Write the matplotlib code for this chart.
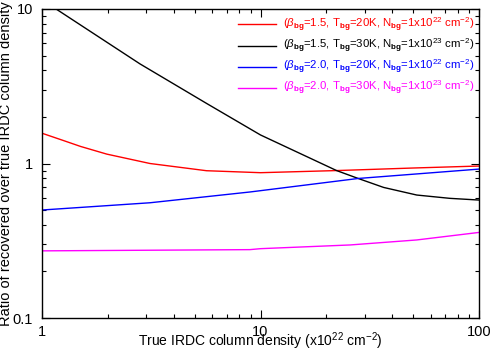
import matplotlib
matplotlib.use('Agg')
import matplotlib.pyplot as plt
from matplotlib.ticker import LogLocator, NullFormatter, FixedLocator, FixedFormatter

plt.rcParams['font.family'] = ['Liberation Sans', 'DejaVu Sans']
plt.rcParams['mathtext.fontset'] = 'custom'
plt.rcParams['mathtext.rm'] = 'Liberation Sans'
plt.rcParams['mathtext.it'] = 'Liberation Sans:italic'
plt.rcParams['mathtext.bf'] = 'Liberation Sans:bold'

# Datos
x_red = [1, 1.25, 1.5, 1.98, 3.12, 5.66, 10, 22.3, 50, 100]
y_red = [1.57, 1.41, 1.29, 1.15, 1.0, 0.898, 0.872, 0.90, 0.935, 0.963]

x_black = [1.16, 2.81, 5.66, 10, 22.3, 28, 36.6, 51.9, 73.5, 100]
y_black = [10, 4.41, 2.45, 1.53, 0.90, 0.80, 0.70, 0.625, 0.595, 0.58]

x_blue = [1, 3.12, 8.94, 10, 28, 100]
y_blue = [0.50, 0.557, 0.654, 0.667, 0.80, 0.92]

x_mag = [1, 8.94, 10, 25.7, 51.9, 100]
y_mag = [0.272, 0.277, 0.281, 0.297, 0.32, 0.358]

labels = [
    r'($\beta_{\mathbf{bg}}$=1.5, T$_{\mathbf{bg}}$=20K, N$_{\mathbf{bg}}$=1x10$^{22}$ cm$^{-2}$)',
    r'($\beta_{\mathbf{bg}}$=1.5, T$_{\mathbf{bg}}$=30K, N$_{\mathbf{bg}}$=1x10$^{23}$ cm$^{-2}$)',
    r'($\beta_{\mathbf{bg}}$=2.0, T$_{\mathbf{bg}}$=20K, N$_{\mathbf{bg}}$=1x10$^{22}$ cm$^{-2}$)',
    r'($\beta_{\mathbf{bg}}$=2.0, T$_{\mathbf{bg}}$=30K, N$_{\mathbf{bg}}$=1x10$^{23}$ cm$^{-2}$)',
]
colors = ['#ff0000', '#000000', '#0000ff', '#ff00ff']

fig = plt.figure(figsize=(4.91, 3.51), dpi=100)
ax = fig.add_axes([42 / 491, 33 / 351, 437 / 491, 309 / 351])

series = [(x_red, y_red), (x_black, y_black), (x_blue, y_blue), (x_mag, y_mag)]
for (xs, ys), c, lab in zip(series, colors, labels):
    ax.plot(xs, ys, color=c, lw=1.0, label=lab)

ax.set_xscale('log')
ax.set_yscale('log')
ax.set_xlim(1, 100)
ax.set_ylim(0.1, 10)

ax.xaxis.set_major_locator(FixedLocator([1, 10, 100]))
ax.xaxis.set_major_formatter(FixedFormatter(['1', '10', '100']))
ax.yaxis.set_major_locator(FixedLocator([0.1, 1, 10]))
ax.yaxis.set_major_formatter(FixedFormatter(['0.1', '1', '10']))
ax.xaxis.set_minor_locator(LogLocator(base=10, subs=range(2, 10)))
ax.yaxis.set_minor_locator(LogLocator(base=10, subs=range(2, 10)))
ax.xaxis.set_minor_formatter(NullFormatter())
ax.yaxis.set_minor_formatter(NullFormatter())

ax.tick_params(which='both', direction='in', top=True, right=True, width=0.8, labelsize=10.5)
ax.tick_params(which='major', length=6)
ax.tick_params(which='minor', length=3)
ax.tick_params(axis='x', which='major', pad=5)
ax.tick_params(axis='y', which='major', pad=6.5)
for s in ax.spines.values():
    s.set_linewidth(1.0)

ax.set_xlabel(r'True IRDC column density (x10$^{22}$ cm$^{-2}$)', fontsize=10, va='bottom')
ax.xaxis.set_label_coords(0.5, -0.111)
ax.set_ylabel('Ratio of recovered over true IRDC column density', fontsize=10.5, labelpad=0)

leg = ax.legend(loc='upper right', bbox_to_anchor=(1.0, 1 - 2.5 / 309), frameon=False,
                fontsize=8.2, labelcolor='linecolor',
                handlelength=3.4, handletextpad=0.6, labelspacing=0.25,
                borderaxespad=0.2, borderpad=0.2)

fig.savefig('out.png', dpi=100)
